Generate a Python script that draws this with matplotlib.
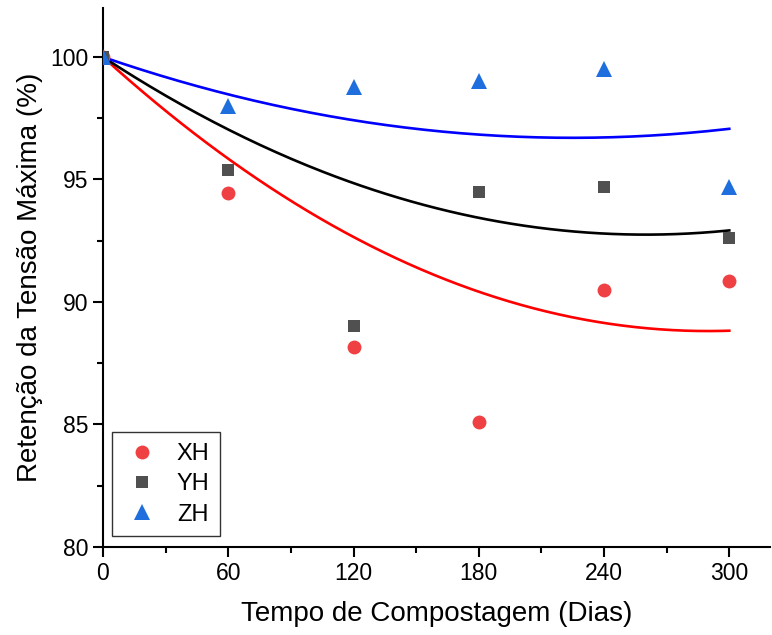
import numpy as np
import matplotlib.pyplot as plt
from matplotlib.ticker import MultipleLocator

plt.rcParams['font.family'] = ['Liberation Sans', 'DejaVu Sans']

# Dados medidos
dias = [0, 60, 120, 180, 240, 300]
xh = [100, 94.45, 88.15, 85.11, 90.5, 90.85]
yh = [100, 95.4, 89.02, 94.48, 94.7, 92.6]
zh = [100, 98.0, 98.79, 99.03, 99.5, 94.7]

# Coeficientes do ajuste polinomial (c0, c1, c2)
fit_xh = [100, -0.0772, 1.332e-4]
fit_yh = [100, -0.05577, 1.0725e-4]
fit_zh = [100, -0.02933, 6.52e-5]

fig = plt.figure(figsize=(7.72, 6.35), dpi=100)
ax = fig.add_axes([0.1334, 0.1386, 0.864, 0.8488])

xs = np.linspace(0, 300, 200)
for coef, cor in [(fit_xh, '#FF0000'), (fit_yh, '#000000'), (fit_zh, '#0000FF')]:
    ax.plot(xs, np.polynomial.polynomial.polyval(xs, coef), color=cor, lw=1.9, zorder=2)

ax.plot(dias, xh, 'o', color='#EF4044', ms=10, mew=0, label='XH', zorder=3)
ax.plot(dias, yh, 's', color='#505050', ms=8.5, mew=0, label='YH', zorder=3)
ax.plot(dias, zh, '^', color='#1E6FDD', ms=11, mew=0, label='ZH', zorder=3)

ax.set_xlim(0, 319.5)
ax.set_ylim(80, 102)
ax.set_xticks([0, 60, 120, 180, 240, 300])
ax.set_yticks([80, 85, 90, 95, 100])
ax.xaxis.set_minor_locator(MultipleLocator(30))
ax.yaxis.set_minor_locator(MultipleLocator(2.5))
ax.tick_params(which='major', direction='out', length=7, width=1.5, labelsize=16.5)
ax.tick_params(which='minor', direction='out', length=4, width=1.5)
ax.spines['top'].set_visible(False)
ax.spines['right'].set_visible(False)
for s in ['left', 'bottom']:
    ax.spines[s].set_linewidth(1.5)

ax.set_xlabel('Tempo de Compostagem (Dias)', fontsize=20, labelpad=12)
ax.set_ylabel('Retenção da Tensão Máxima (%)', fontsize=20, labelpad=5)

leg = ax.legend(loc='lower left', bbox_to_anchor=(0.0135, 0.02), fontsize=17,
                frameon=True, fancybox=False, edgecolor='black', borderaxespad=0,
                handlelength=1.6, handletextpad=0.7, borderpad=0.45, labelspacing=0.35)
leg.get_frame().set_linewidth(1.0)

plt.savefig('out.png', dpi=100)
